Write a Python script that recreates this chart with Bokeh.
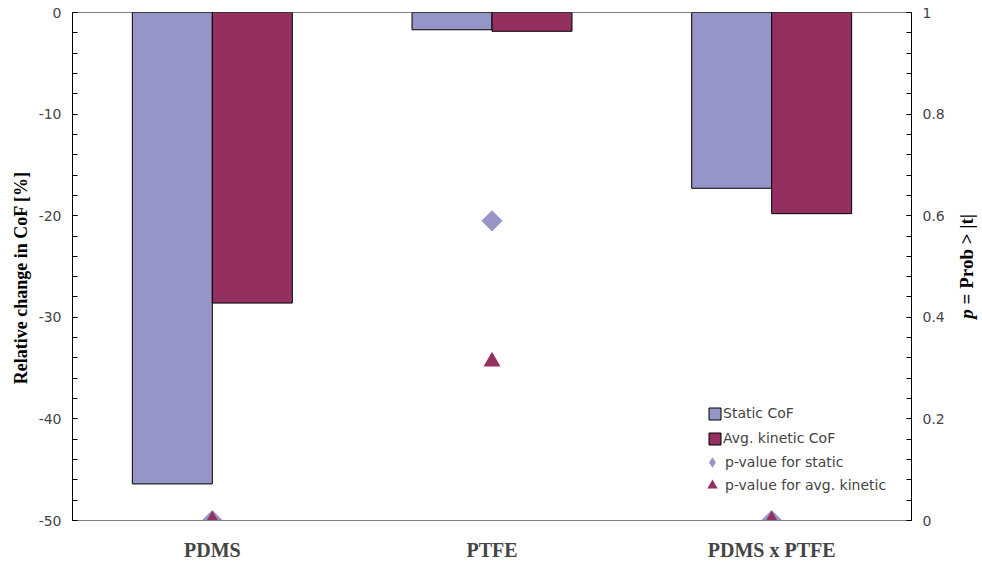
from bokeh.plotting import figure
from bokeh.models import (Range1d, FactorRange, LinearAxis, SingleIntervalTicker, FixedTicker,
                          ColumnDataSource, Span, Legend, LegendItem, PrintfTickFormatter, Div)
from bokeh.layouts import row
from bokeh.transform import dodge
from bokeh.embed import file_html
from bokeh.resources import INLINE
import math

categories = ["PDMS", "PTFE", "PDMS x PTFE"]
static_cof = [-46.4, -1.7, -17.3]
kinetic_cof = [-28.6, -1.85, -19.8]
p_static = [0.0, 0.59, 0.0]
p_kinetic = [0.0, 0.313, 0.0]

STATIC_COLOR = "#9595C8"
KINETIC_COLOR = "#93305F"
TICK_FONT = "DejaVu Sans"
TITLE_FONT = "Liberation Serif"

src = ColumnDataSource(dict(cat=categories, s=static_cof, k=kinetic_cof,
                            ps=p_static, pk=p_kinetic, zero=[0] * len(categories)))

p = figure(width=951, height=563, x_range=FactorRange(factors=categories, range_padding=0),
           y_range=Range1d(-50, 0), output_backend="svg", toolbar_location=None,
           min_border_left=72, min_border_right=40, min_border_top=12, min_border_bottom=43)
p.extra_y_ranges = {"p": Range1d(0, 1)}
p.outline_line_color = None
p.xgrid.visible = False
p.ygrid.visible = False
p.background_fill_color = "white"

bw = 0.286
r1 = p.vbar(x=dodge("cat", -bw / 2, range=p.x_range), top="zero", bottom="s", width=bw,
            source=src, fill_color=STATIC_COLOR, line_color="black", line_width=1)
r2 = p.vbar(x=dodge("cat", bw / 2, range=p.x_range), top="zero", bottom="k", width=bw,
            source=src, fill_color=KINETIC_COLOR, line_color="black", line_width=1)
r3 = p.scatter(x="cat", y="ps", source=src, y_range_name="p", marker="square",
               angle=math.pi / 4, size=15, fill_color=STATIC_COLOR, line_color=None)
r4 = p.scatter(x="cat", y="pk", source=src, y_range_name="p", marker="triangle",
               size=17, fill_color=KINETIC_COLOR, line_color=None)
# legend-only proxy (size 0 in the plot) so the legend shows a diamond
r3_legend = p.scatter(x="cat", y="ps", source=src, y_range_name="p", marker="diamond",
                      size=0, fill_color=STATIC_COLOR, line_color=None)

p.add_layout(Span(location=0, dimension="width", line_color="black", line_width=1))


def style_ticks(ax):
    ax.major_label_text_font = TICK_FONT
    ax.major_label_text_font_size = "14px"
    ax.major_tick_in = 5
    ax.major_tick_out = 0
    ax.minor_tick_in = 5
    ax.minor_tick_out = 0
    ax.axis_line_color = "black"
    ax.major_label_standoff = 11


# left axis
ya = p.yaxis[0]
ya.ticker = SingleIntervalTicker(interval=10, num_minor_ticks=5)
ya.formatter = PrintfTickFormatter(format="%d")
style_ticks(ya)
la = LinearAxis(ticker=FixedTicker(ticks=[]))
la.axis_line_color = None
la.major_tick_line_color = None
la.minor_tick_line_color = None
# trailing no-break spaces shift the centred title slightly downwards, as in the original
la.axis_label = "Relative change in CoF [%]" + "\u00a0" * 5
la.axis_label_standoff = 5
la.axis_label_text_font = TITLE_FONT
la.axis_label_text_font_style = "bold"
la.axis_label_text_font_size = "18px"
la.axis_label_text_color = "black"
p.add_layout(la, "left")

# right axis
ra = LinearAxis(y_range_name="p", ticker=SingleIntervalTicker(interval=0.2, num_minor_ticks=5))
style_ticks(ra)
p.add_layout(ra, "right")

# x axis
xa = p.xaxis[0]
xa.major_tick_line_color = None
xa.minor_tick_line_color = None
xa.axis_line_color = "#808080"
xa.major_label_text_font = TITLE_FONT
xa.major_label_text_font_style = "bold"
xa.major_label_text_font_size = "20px"
xa.major_label_standoff = 12

legend_bars = Legend(items=[
    LegendItem(label="Static CoF", renderers=[r1]),
    LegendItem(label="Avg. kinetic CoF", renderers=[r2]),
], location=(635, 74))
legend_bars.glyph_width = 15
legend_bars.glyph_height = 15
legend_bars.label_height = 15
legend_bars.spacing = 9
legend_bars.label_standoff = 1

legend_ps = Legend(items=[LegendItem(label="p-value for static", renderers=[r3_legend])],
                   location=(627, 45))
legend_pk = Legend(items=[LegendItem(label="p-value for avg. kinetic", renderers=[r4])],
                   location=(627, 22))
for lg in (legend_ps, legend_pk):
    lg.glyph_width = 26
    lg.glyph_height = 26
    lg.label_height = 15
    lg.label_standoff = 0

for lg in (legend_bars, legend_ps, legend_pk):
    lg.border_line_color = None
    lg.background_fill_alpha = 0
    lg.label_text_font = TICK_FONT
    lg.label_text_font_size = "14px"
    lg.padding = 0
    lg.margin = 0
    p.add_layout(lg, "center")

# right-hand axis title (italic p), reading bottom-to-top, centred on the plot area
right_title = Div(
    text=('<div style="height:508px;margin-top:12px;width:31px;display:flex;'
          'align-items:center;justify-content:center;">'
          '<span style="writing-mode:vertical-rl;transform:rotate(180deg);white-space:nowrap;'
          "font-family:'Liberation Serif';font-weight:bold;font-size:19px;color:black;\">"
          '<i>p</i> = Prob &gt; |t|</span></div>'),
    width=31, height=563, margin=0)

layout = row(p, right_title, spacing=0)

open("out.html", "w").write(file_html(layout, INLINE))
